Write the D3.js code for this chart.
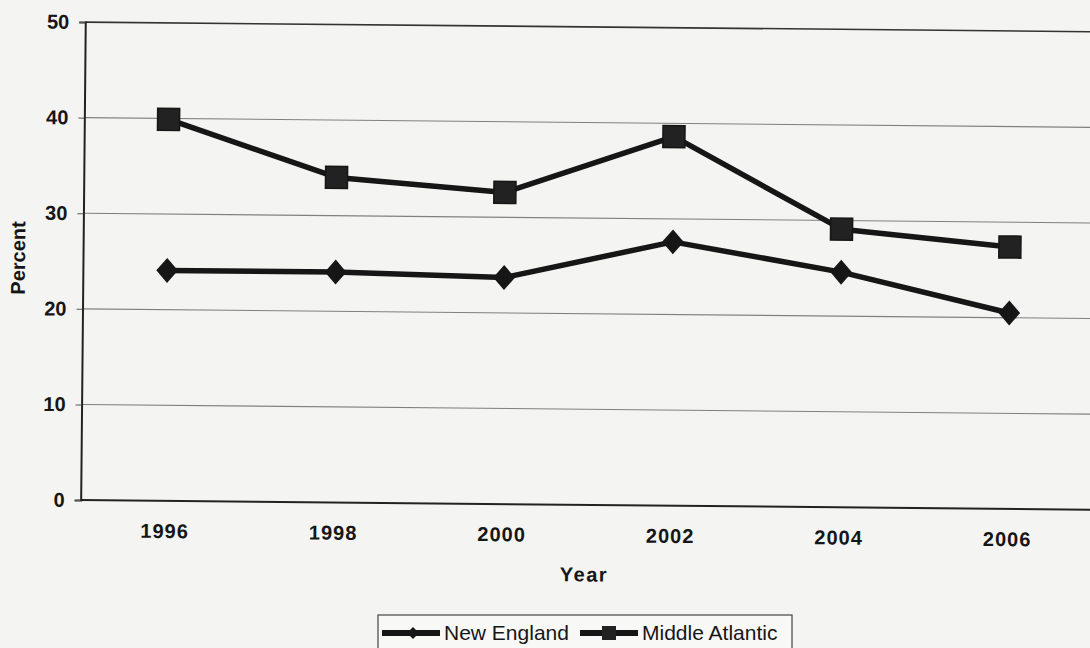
<!DOCTYPE html>
<html>
<head>
<meta charset="utf-8">
<script src="https://cdn.jsdelivr.net/npm/d3@7"></script>
<style>
  body { margin: 0; background: #f4f4f2; }
  svg { display: block; font-family: "Liberation Sans", Arial, sans-serif; }
</style>
</head>
<body>
<svg id="chart" width="1090" height="648"></svg>
<script>
// values
var years = ["1996", "1998", "2000", "2002", "2004", "2006"];
var newEngland = [24.1, 24.1, 23.7, 27.6, 24.6, 20.5];
var middleAtlantic = [39.9, 34.0, 32.6, 38.6, 29.1, 27.4];
var yTicks = [0, 10, 20, 30, 40, 50];

var plotL = 83, plotR = 1094, plotT = 26.5, plotB = 504.5;
var INK = "#161616";

var svg = d3.select("#chart");
// whole scan sits a little crooked
var g = svg.append("g").attr("transform", "rotate(0.55, 545, 260)");

var x = d3.scaleBand().domain(years).range([plotL, plotR]);
var y = d3.scaleLinear().domain([0, 50]).range([plotB, plotT]);
var cx = function(d, i) { return x(years[i]) + x.bandwidth() / 2; };

// gridlines
g.selectAll(".grid").data(yTicks.slice(1))
  .enter().append("line")
  .attr("x1", plotL).attr("x2", plotR)
  .attr("y1", function(d) { return y(d); }).attr("y2", function(d) { return y(d); })
  .attr("stroke", function(d) { return d == 50 ? "#333" : "#808080"; })
  .attr("stroke-width", function(d) { return d == 50 ? 1.6 : 1.1; });

// axes
var yAxis = g.append("g").attr("transform", "translate(" + plotL + ",0)")
  .call(d3.axisLeft(y).tickValues(yTicks).tickSize(6).tickPadding(10));
var xAxis = g.append("g").attr("transform", "translate(0," + plotB + ")")
  .call(d3.axisBottom(x).tickSize(0).tickPadding(23));

[yAxis, xAxis].forEach(function(a) {
  a.select(".domain").attr("stroke", "#222").attr("stroke-width", 2);
  a.selectAll(".tick line").attr("stroke", "#555");
  a.selectAll("text").attr("font-size", 20).attr("font-weight", "bold")
    .attr("fill", INK).attr("font-family", "Liberation Sans, Arial, sans-serif");
});
xAxis.selectAll("text").attr("letter-spacing", 1);
xAxis.select(".domain").attr("d", "M" + plotL + ",0H" + plotR);

// axis titles
g.append("text").attr("x", 587).attr("y", 581).attr("text-anchor", "middle")
  .attr("font-size", 20).attr("font-weight", "bold").attr("letter-spacing", 1.5)
  .attr("fill", INK).text("Year");
g.append("text").attr("transform", "translate(25,263) rotate(-90)").attr("text-anchor", "middle")
  .attr("font-size", 20).attr("font-weight", "bold").attr("fill", INK).text("Percent");

var line = d3.line().x(cx).y(function(d) { return y(d); });

function drawSeries(vals, marker) {
  g.append("path").datum(vals).attr("d", line)
    .attr("fill", "none").attr("stroke", INK).attr("stroke-width", 5.5)
    .attr("stroke-linejoin", "round");
  var pts = g.selectAll(null).data(vals).enter();
  if (marker == "square") {
    pts.append("rect")
      .attr("x", function(d, i) { return cx(d, i) - 11; })
      .attr("y", function(d) { return y(d) - 11; })
      .attr("width", 22).attr("height", 22)
      .attr("fill", "#222").attr("stroke", INK).attr("stroke-width", 1.5);
  } else {
    pts.append("path")
      .attr("d", d3.symbol().type(d3.symbolDiamond2).size(300))
      .attr("transform", function(d, i) { return "translate(" + cx(d, i) + "," + y(d) + ") scale(1,1.15)"; })
      .attr("fill", INK);
  }
}
drawSeries(middleAtlantic, "square");
drawSeries(newEngland, "diamond");

// legend
var leg = svg.append("g").attr("transform", "translate(378,615)");
leg.append("rect").attr("width", 414).attr("height", 40)
  .attr("fill", "#f8f8f6").attr("stroke", "#444").attr("stroke-width", 1.2);
var items = [{ name: "New England", m: "diamond", x: 4 }, { name: "Middle Atlantic", m: "square", x: 202 }];
items.forEach(function(it) {
  var lg = leg.append("g").attr("transform", "translate(" + it.x + ",18)");
  lg.append("line").attr("x1", 0).attr("x2", 58).attr("stroke", INK).attr("stroke-width", 6);
  if (it.m == "square") {
    lg.append("rect").attr("x", 22).attr("y", -7).attr("width", 14).attr("height", 14).attr("fill", "#222");
  } else {
    lg.append("path").attr("d", d3.symbol().type(d3.symbolDiamond2).size(90))
      .attr("transform", "translate(31,0)").attr("fill", INK);
  }
  lg.append("text").attr("x", 62).attr("y", 7).attr("font-size", 21).attr("fill", INK).text(it.name);
});
</script>
</body>
</html>
